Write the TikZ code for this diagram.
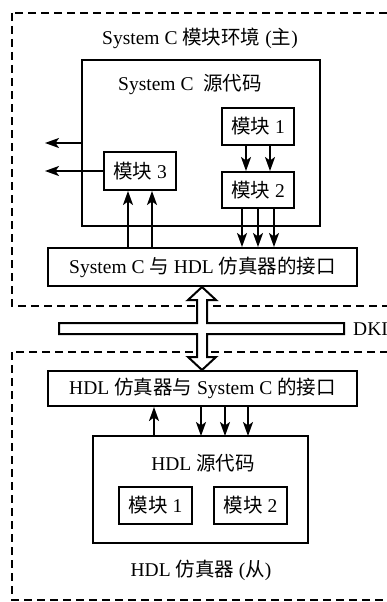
\documentclass[tikz,border=0pt]{standalone}
\usepackage{fontspec}
\setmainfont{Liberation Serif}
\newfontfamily\cjk{Noto Sans CJK SC}
\newcommand{\zh}[1]{{\cjk #1}}
\usetikzlibrary{arrows.meta}
\begin{document}
\begin{tikzpicture}[x=1pt,y=-1pt,
  every node/.style={font=\fontsize{19.5}{22}\selectfont},
  box/.style={draw,line width=2pt,inner sep=0pt,fill=white},
  txt/.style={inner sep=0pt},
  arr/.style={line width=2pt,-{Stealth[length=14pt,width=10pt,inset=3.5pt]}},
  dbox/.style={line width=2pt,dash pattern=on 8pt off 5pt},
  bus/.style={line width=2pt,fill=white,line join=miter}]
\useasboundingbox (0,0) rectangle (387,602);
\clip (0,0) rectangle (387,602);
\fill[white] (0,0) rectangle (387,602);
% dashed environment boxes
\draw[dbox] (12,13) rectangle (420,306);
\draw[dbox] (12,352) rectangle (420,600);
% upper part
\node[txt] (t1) at (200,38) {System C \zh{模块环境} (\zh{主})};
\node[box,minimum width=238pt,minimum height=166pt] (src) at (201,143) {};
\node[txt] (t2) at (190,85) {System C \ \zh{源代码}};
\node[box,minimum width=72pt,minimum height=37pt] (m1) at (258,126.5) {\zh{模块} 1};
\node[box,minimum width=72pt,minimum height=36pt] (m2) at (258,190) {\zh{模块} 2};
\node[box,minimum width=72pt,minimum height=38pt] (m3) at (140,171) {\zh{模块} 3};
\node[box,minimum width=309pt,minimum height=38pt] (if1) at (202.5,267) {System C \zh{与} HDL \zh{仿真器的接口}};
\coordinate (o1) at (45,143);
\coordinate (o2) at (45,171);
\draw[arr] (src.west) -- (o1);
\draw[arr] (m3.west) -- (o2);
\coordinate (a1) at ([xshift=-12pt]m1.south);
\coordinate (a2) at ([xshift=12pt]m1.south);
\draw[arr] (a1) -- (a1 |- m2.north);
\draw[arr] (a2) -- (a2 |- m2.north);
\coordinate (b1) at ([xshift=-12pt]m3.south);
\coordinate (b2) at ([xshift=12pt]m3.south);
\draw[arr] (b1 |- if1.north) -- (b1);
\draw[arr] (b2 |- if1.north) -- (b2);
\coordinate (c1) at ([xshift=-16pt]m2.south);
\coordinate (c2) at (m2.south);
\coordinate (c3) at ([xshift=16pt]m2.south);
\draw[arr] (c1) -- (c1 |- if1.north);
\draw[arr] (c2) -- (c2 |- if1.north);
\draw[arr] (c3) -- (c3 |- if1.north);
% DKI bus and double arrow
\draw[bus] (202,287) -- (216,300) -- (207,300) -- (207,323) -- (344,323) -- (344,334)
  -- (207,334) -- (207,357) -- (216,357) -- (202,370) -- (188,357) -- (197,357)
  -- (197,334) -- (59,334) -- (59,323) -- (197,323) -- (197,300) -- (188,300) -- cycle;
\node[txt,anchor=west] (dki) at (353,329) {DKI};
% lower part
\node[box,minimum width=309pt,minimum height=35pt] (if2) at (202.5,388.5) {HDL \zh{仿真器与} System C \zh{的接口}};
\node[box,minimum width=215pt,minimum height=107pt] (hsrc) at (200.5,489.5) {};
\node[txt] (t3) at (203,463) {HDL \zh{源代码}};
\node[box,minimum width=73pt,minimum height=37pt] (hm1) at (155.5,505.5) {\zh{模块} 1};
\node[box,minimum width=73pt,minimum height=37pt] (hm2) at (250.5,505.5) {\zh{模块} 2};
\node[txt] (t4) at (201,570) {HDL \zh{仿真器} (\zh{从})};
\coordinate (d0) at (154,436);
\draw[arr] (d0) -- (d0 |- if2.south);
\coordinate (e1) at (201,436);
\coordinate (e2) at (225,436);
\coordinate (e3) at (248,436);
\draw[arr] (e1 |- if2.south) -- (e1);
\draw[arr] (e2 |- if2.south) -- (e2);
\draw[arr] (e3 |- if2.south) -- (e3);
\end{tikzpicture}
\end{document}
